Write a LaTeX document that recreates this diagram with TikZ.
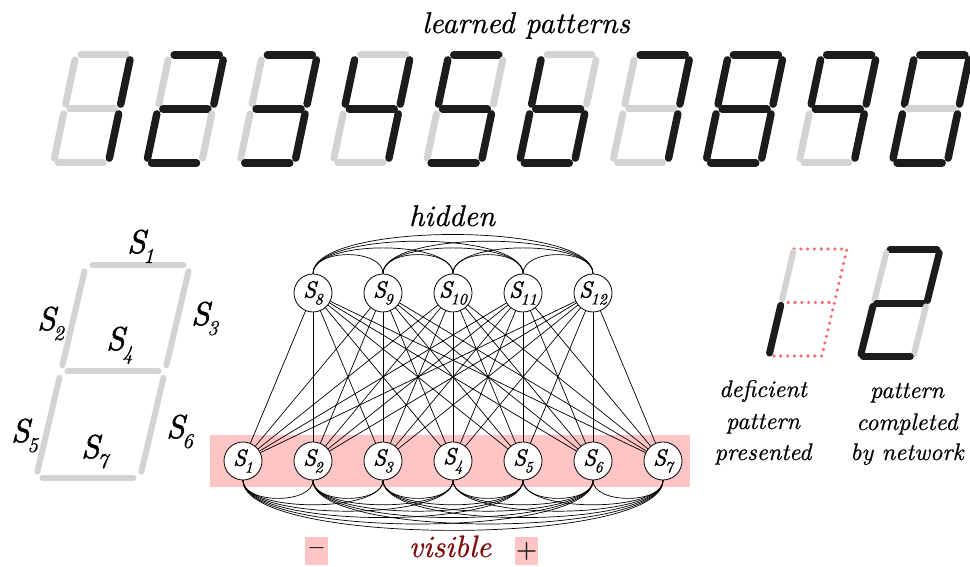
\documentclass[tikz,border=0pt]{standalone}
\usepackage{fontspec}
\newfontfamily\heavyit{lmroman10-italic.otf}[FakeBold=1.6]
\newfontfamily\itx{lmroman10-italic.otf}[FakeBold=0.6]
\newfontfamily\rmx{lmroman10-regular.otf}[FakeBold=1.2]
\definecolor{seggray}{RGB}{211,211,211}
\definecolor{segblack}{RGB}{28,28,28}
\definecolor{bandpink}{RGB}{255,196,196}
\definecolor{dotpink}{RGB}{242,112,112}
\definecolor{visred}{RGB}{128,12,12}
\newcommand\digitframe[5]{%
 \coordinate (A) at (#1,#2);
 \coordinate (B) at (#1+#3,#2);
 \coordinate (C) at (#1-#5*#4,#2-#4);
 \coordinate (D) at (#1+#3-#5*#4,#2-#4);
 \coordinate (E) at (#1-2*#5*#4,#2-2*#4);
 \coordinate (F) at (#1+#3-2*#5*#4,#2-2*#4);
}
\newcommand\segs[7]{%
 \draw[#1] (A) -- (B);
 \draw[#2] (A) -- (C);
 \draw[#3] (B) -- (D);
 \draw[#4] (C) -- (D);
 \draw[#5] (C) -- (E);
 \draw[#6] (D) -- (F);
 \draw[#7] (E) -- (F);
}
\newcommand\nlab[1]{{\fontsize{23}{23}\heavyit S}\kern-1.5pt\raisebox{-7pt}{\fontsize{16}{16}\itx #1}}
\newcommand\blab[1]{{\fontsize{33}{33}\heavyit S}\kern-2.5pt\raisebox{-10pt}{\fontsize{21}{21}\itx #1}}
\tikzset{
 seg/.style={line cap=round, shorten <=5pt, shorten >=5pt},
 segon/.style={seg, draw=segblack, line width=7.5pt},
 segoff/.style={seg, draw=seggray, line width=7pt},
 segthin/.style={line cap=round, shorten <=6.5pt, shorten >=6.5pt, draw=seggray, line width=6pt},
 smon/.style={line cap=round, shorten <=3pt, shorten >=3pt, draw=segblack, line width=7pt},
 smoff/.style={line cap=round, shorten <=3pt, shorten >=3pt, draw=seggray, line width=6pt},
 dotpat/.style={draw=dotpink, line width=3.6pt, line cap=round, dash pattern=on 0pt off 6.8pt},
 unit/.style={circle, draw, line width=0.8pt, fill=white, minimum size=38pt, inner sep=0pt},
 conn/.style={line width=0.7pt},
 blabel/.style={anchor=base west, inner sep=0pt},
 txt/.style={anchor=base, inner sep=0pt, font=\fontsize{24}{24}\itx},
 bigtxt/.style={anchor=base, inner sep=0pt, font=\fontsize{30}{30}\itx},
 signbox/.style={fill=bandpink, minimum width=23pt, minimum height=28pt, inner sep=0pt, text=black!85, font=\fontsize{27}{27}\rmx},
}
\begin{document}
\begin{tikzpicture}[x=1pt,y=1pt]
\useasboundingbox (0,0) rectangle (970,567);
% learned patterns
\node[bigtxt] (title) at (526,534) {learned patterns};
\digitframe{76}{512}{55}{54}{0.21}\segs{segoff}{segoff}{segon}{segoff}{segoff}{segon}{segoff}
\digitframe{169.2}{512}{55}{54}{0.21}\segs{segon}{segoff}{segon}{segon}{segon}{segoff}{segon}
\digitframe{262.4}{512}{55}{54}{0.21}\segs{segon}{segoff}{segon}{segon}{segoff}{segon}{segon}
\digitframe{355.6}{512}{55}{54}{0.21}\segs{segoff}{segon}{segon}{segon}{segoff}{segon}{segoff}
\digitframe{448.8}{512}{55}{54}{0.21}\segs{segon}{segon}{segoff}{segon}{segoff}{segon}{segon}
\digitframe{542}{512}{55}{54}{0.21}\segs{segoff}{segon}{segoff}{segon}{segon}{segon}{segon}
\digitframe{635.2}{512}{55}{54}{0.21}\segs{segon}{segoff}{segon}{segoff}{segoff}{segon}{segoff}
\digitframe{728.4}{512}{55}{54}{0.21}\segs{segon}{segon}{segon}{segon}{segon}{segon}{segon}
\digitframe{821.6}{512}{55}{54}{0.21}\segs{segon}{segon}{segon}{segon}{segoff}{segon}{segoff}
\digitframe{914.8}{512}{55}{54}{0.21}\segs{segon}{segon}{segon}{segoff}{segon}{segon}{segon}
% labelled seven-segment
\digitframe{86}{302}{104}{106.5}{0.235}\segs{segthin}{segthin}{segthin}{segthin}{segthin}{segthin}{segthin}
\node[blabel] (l1) at (127,314) {\blab{1}};
\node[blabel] (l2) at (37,237) {\blab{2}};
\node[blabel] (l3) at (191,242) {\blab{3}};
\node[blabel] (l4) at (106,217) {\blab{4}};
\node[blabel] (l5) at (11,125) {\blab{5}};
\node[blabel] (l6) at (166,129) {\blab{6}};
\node[blabel] (l7) at (81,109) {\blab{7}};
% network
\fill[bandpink] (210,80) rectangle (690,132);
\node[bigtxt] (hid) at (452,341) {hidden};
\node[bigtxt, text=visred, font=\fontsize{31}{31}\itx] (vis) at (450,10) {visible};
\node[signbox] (minus) at (316.5,16) {–};
\node[signbox] (plus) at (526.5,16) {+};
\foreach \i in {8,...,12}{\node[unit] (h\i) at ({313+70*(\i-8)},274) {\nlab{\i}};}
\foreach \i in {1,...,7}{\node[unit] (v\i) at ({243+70*(\i-1)},106) {\nlab{\i}};}
\foreach \i in {8,...,12}{\foreach \j in {1,...,7}{\draw[conn] (h\i) -- (v\j);}}
\foreach \i in {8,...,11}{%
 \pgfmathtruncatemacro\ii{\i+1}%
 \foreach \j in {\ii,...,12}{%
  \pgfmathsetmacro\dd{(19+6.7*(\j-\i-1))/0.75}%
  \draw[conn] (h\i.north) .. controls +(0,\dd) and +(0,\dd) .. (h\j.north);}}
\foreach \i in {1,...,6}{%
 \pgfmathtruncatemacro\ii{\i+1}%
 \foreach \j in {\ii,...,7}{%
  \pgfmathsetmacro\dd{(18+6.4*(\j-\i-1))/0.75}%
  \draw[conn] (v\i.south) .. controls +(0,-\dd) and +(0,-\dd) .. (v\j.south);}}
% deficient pattern
\digitframe{794}{318}{53}{53.5}{0.235}
\draw[dotpat] (A) -- (B) -- (D) -- (F) -- (E);
\draw[dotpat] (C) -- (D);
\draw[smoff] (A) -- (C);
\draw[smon] (C) -- (E);
% completed pattern
\digitframe{887}{317}{53}{53.5}{0.25}\segs{smon}{smoff}{smon}{smon}{smon}{smoff}{smon}
\node[txt] (d1) at (763,170) {deficient};
\node[txt] (d2) at (763,138) {pattern};
\node[txt] (d3) at (763,107) {presented};
\node[txt] (c1) at (907,169) {pattern};
\node[txt] (c2) at (907,137) {completed};
\node[txt] (c3) at (907,107) {by network};
\end{tikzpicture}
\end{document}
